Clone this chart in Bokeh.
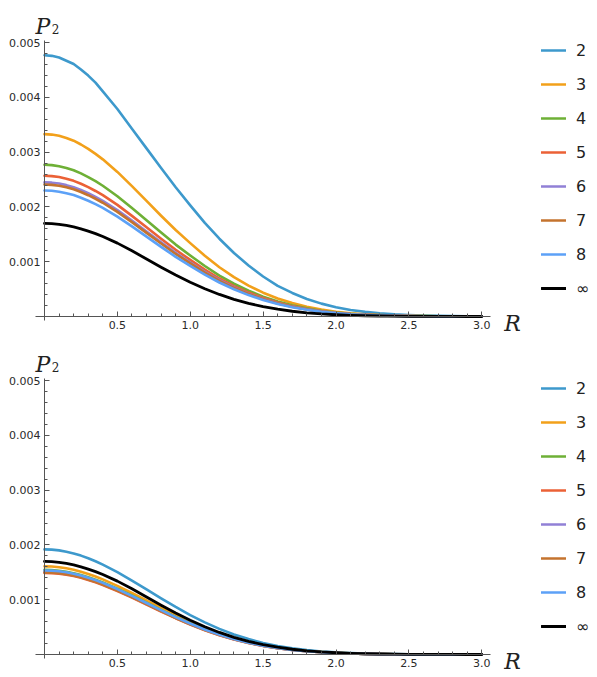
from bokeh.plotting import figure
from bokeh.models import FixedTicker, PrintfTickFormatter, Label, Legend, LegendItem
from bokeh.layouts import column
from bokeh.embed import file_html
from bokeh.resources import INLINE

# R grid
R = [0.0, 0.05, 0.1, 0.15, 0.2, 0.25, 0.3, 0.35, 0.4, 0.5, 0.6, 0.7, 0.8, 0.9, 1.0, 1.1, 1.2, 1.3, 1.4, 1.5,
     1.6, 1.7, 1.8, 1.9, 2.0, 2.1, 2.2, 2.3, 2.4, 2.5, 2.6, 2.7, 2.8, 2.9, 3.0]

labels = ["2", "3", "4", "5", "6", "7", "8", "\u221e"]
colors = ["#3D99CC", "#F2A01A", "#6EB036", "#EB6136", "#9180D6", "#C4732E", "#5CA1F7", "#000000"]

# P2 values in units of 1e-3 (top panel)
top_2 = [4.77, 4.76, 4.73, 4.67, 4.61, 4.51, 4.40, 4.27, 4.11, 3.79, 3.43, 3.07, 2.71, 2.36, 2.03, 1.71, 1.42, 1.16, 0.93, 0.73,
         0.56, 0.43, 0.32, 0.235, 0.17, 0.12, 0.085, 0.058, 0.039, 0.026, 0.017, 0.011, 0.007, 0.0045, 0.003]
top_3 = [3.33, 3.322, 3.30, 3.26, 3.21, 3.141, 3.06, 2.97, 2.87, 2.64, 2.38, 2.11, 1.84, 1.58, 1.34, 1.11, 0.90, 0.72, 0.565, 0.435,
         0.33, 0.245, 0.178, 0.126, 0.088, 0.060, 0.040, 0.026, 0.017, 0.011, 0.007, 0.0045, 0.0028, 0.0017, 0.001]
top_4 = [2.77, 2.764, 2.745, 2.712, 2.670, 2.613, 2.546, 2.471, 2.388, 2.197, 1.981, 1.756, 1.532, 1.313, 1.114, 0.922, 0.748, 0.598, 0.471, 0.363,
         0.274, 0.204, 0.148, 0.105, 0.073, 0.050, 0.033, 0.022, 0.014, 0.009, 0.006, 0.0037, 0.0023, 0.0014, 0.0008]
top_5 = [2.57, 2.564, 2.547, 2.516, 2.477, 2.424, 2.362, 2.292, 2.215, 2.038, 1.838, 1.629, 1.421, 1.218, 1.033, 0.856, 0.694, 0.555, 0.437, 0.337,
         0.254, 0.189, 0.137, 0.097, 0.068, 0.046, 0.031, 0.020, 0.013, 0.0085, 0.0054, 0.0035, 0.0022, 0.0013, 0.0008]
top_6 = [2.45, 2.444, 2.428, 2.399, 2.362, 2.311, 2.252, 2.185, 2.112, 1.943, 1.752, 1.553, 1.355, 1.161, 0.985, 0.816, 0.662, 0.529, 0.417, 0.321,
         0.243, 0.180, 0.131, 0.093, 0.065, 0.044, 0.029, 0.019, 0.0125, 0.008, 0.0051, 0.0033, 0.0021, 0.0012, 0.0007]
top_7 = [2.41, 2.404, 2.388, 2.359, 2.323, 2.273, 2.215, 2.150, 2.077, 1.911, 1.723, 1.528, 1.333, 1.142, 0.969, 0.803, 0.651, 0.521, 0.410, 0.316,
         0.239, 0.177, 0.129, 0.091, 0.064, 0.043, 0.029, 0.019, 0.012, 0.008, 0.005, 0.0033, 0.002, 0.0012, 0.0007]
top_8 = [2.30, 2.295, 2.279, 2.252, 2.217, 2.169, 2.114, 2.052, 1.983, 1.824, 1.645, 1.458, 1.272, 1.090, 0.925, 0.766, 0.621, 0.497, 0.391, 0.301,
         0.228, 0.169, 0.123, 0.087, 0.061, 0.041, 0.028, 0.018, 0.012, 0.0076, 0.0048, 0.0031, 0.0019, 0.0012, 0.0007]
top_inf = [1.70, 1.696, 1.684, 1.663, 1.636, 1.601, 1.56, 1.513, 1.46, 1.34, 1.20, 1.05, 0.90, 0.757, 0.625, 0.507, 0.403, 0.314, 0.240, 0.180,
           0.133, 0.096, 0.068, 0.047, 0.032, 0.021, 0.014, 0.009, 0.0055, 0.0034, 0.002, 0.0012, 0.0007, 0.0004, 0.0002]

# P2 values in units of 1e-3 (bottom panel)
bot_2 = [1.92, 1.915, 1.901, 1.878, 1.846, 1.806, 1.758, 1.703, 1.641, 1.503, 1.349, 1.188, 1.025, 0.868, 0.720, 0.586, 0.468, 0.366, 0.281, 0.211,
         0.156, 0.113, 0.080, 0.056, 0.038, 0.025, 0.017, 0.011, 0.0068, 0.0042, 0.0026, 0.0016, 0.001, 0.0006, 0.0003]
bot_3 = [1.61, 1.606, 1.594, 1.574, 1.547, 1.512, 1.471, 1.424, 1.372, 1.254, 1.123, 0.986, 0.849, 0.716, 0.592, 0.480, 0.381, 0.297, 0.227, 0.170,
         0.124, 0.089, 0.063, 0.044, 0.029, 0.020, 0.013, 0.008, 0.005, 0.003, 0.0019, 0.0011, 0.0006, 0.0004, 0.0002]
bot_4 = [1.545, 1.541, 1.530, 1.511, 1.484, 1.451, 1.412, 1.367, 1.317, 1.203, 1.078, 0.947, 0.815, 0.687, 0.568, 0.461, 0.366, 0.285, 0.218, 0.163,
         0.119, 0.086, 0.061, 0.042, 0.028, 0.019, 0.012, 0.008, 0.005, 0.003, 0.0018, 0.001, 0.0006, 0.0003, 0.0002]
bot_5 = [1.49, 1.486, 1.475, 1.457, 1.432, 1.400, 1.362, 1.318, 1.270, 1.160, 1.040, 0.913, 0.786, 0.663, 0.548, 0.444, 0.353, 0.275, 0.210, 0.157,
         0.115, 0.083, 0.058, 0.040, 0.027, 0.018, 0.012, 0.0075, 0.0047, 0.0029, 0.0017, 0.001, 0.0006, 0.0003, 0.0002]
bot_6 = [1.51, 1.506, 1.495, 1.476, 1.451, 1.418, 1.380, 1.336, 1.287, 1.176, 1.054, 0.925, 0.796, 0.672, 0.556, 0.450, 0.358, 0.279, 0.213, 0.159,
         0.117, 0.084, 0.059, 0.041, 0.028, 0.018, 0.012, 0.0076, 0.0048, 0.0029, 0.0018, 0.001, 0.0006, 0.0003, 0.0002]
bot_7 = [1.50, 1.496, 1.485, 1.467, 1.441, 1.409, 1.371, 1.327, 1.278, 1.168, 1.047, 0.919, 0.791, 0.667, 0.552, 0.447, 0.355, 0.277, 0.211, 0.158,
         0.116, 0.083, 0.059, 0.041, 0.027, 0.018, 0.012, 0.0076, 0.0047, 0.0029, 0.0017, 0.001, 0.0006, 0.0003, 0.0002]
bot_8 = [1.535, 1.531, 1.520, 1.501, 1.475, 1.442, 1.403, 1.358, 1.308, 1.195, 1.071, 0.940, 0.809, 0.683, 0.565, 0.458, 0.364, 0.283, 0.216, 0.162,
         0.119, 0.085, 0.060, 0.042, 0.028, 0.019, 0.012, 0.0077, 0.0048, 0.003, 0.0018, 0.001, 0.0006, 0.0003, 0.0002]
bot_inf = top_inf

x_major = [0.5, 1.0, 1.5, 2.0, 2.5, 3.0]
x_minor = [0.1, 0.2, 0.3, 0.4, 0.6, 0.7, 0.8, 0.9, 1.1, 1.2, 1.3, 1.4, 1.6, 1.7, 1.8, 1.9,
           2.1, 2.2, 2.3, 2.4, 2.6, 2.7, 2.8, 2.9]
y_major = [0.001, 0.002, 0.003, 0.004, 0.005]
y_minor = [0.0002, 0.0004, 0.0006, 0.0008, 0.0012, 0.0014, 0.0016, 0.0018, 0.0022, 0.0024, 0.0026, 0.0028,
           0.0032, 0.0034, 0.0036, 0.0038, 0.0042, 0.0044, 0.0046, 0.0048]

SCALE = 1e-3
PX_X = 145.75      # pixels per unit R
PX_Y = 54760.0     # pixels per unit P2
W = 597
ORIGIN_X = 44      # pixel position of R = 0


def make_plot(series, height, zero_from_top, legend_vy):
    x0 = -ORIGIN_X / PX_X
    x1 = x0 + W / PX_X
    y1 = zero_from_top / PX_Y
    y0 = -(height - zero_from_top) / PX_Y
    p = figure(width=W, height=height, x_range=(x0, x1), y_range=(y0, y1),
               output_backend="svg", toolbar_location=None,
               min_border_left=0, min_border_right=0, min_border_top=0, min_border_bottom=0)
    p.outline_line_color = None
    p.xgrid.visible = False
    p.ygrid.visible = False
    p.background_fill_color = "white"
    p.border_fill_color = "white"

    p.xaxis.fixed_location = 0
    p.yaxis.fixed_location = 0
    p.xaxis.bounds = (-0.062, 3.06)
    p.yaxis.bounds = (-0.00007, 0.00504)

    for ax, maj, mnr, fmt in ((p.xaxis, x_major, x_minor, "%.1f"), (p.yaxis, y_major, y_minor, "%.3f")):
        ax.ticker = FixedTicker(ticks=maj, minor_ticks=mnr)
        ax.formatter = PrintfTickFormatter(format=fmt)
        ax.axis_line_color = "#555555"
        ax.axis_line_width = 1
        ax.major_tick_line_color = "#555555"
        ax.minor_tick_line_color = "#555555"
        ax.major_tick_in = 5
        ax.major_tick_out = 0
        ax.minor_tick_in = 3
        ax.minor_tick_out = 0
        ax.major_label_text_font = "DejaVu Sans"
        ax.major_label_text_font_size = "11px"
        ax.major_label_text_color = "#2a2a2a"
        ax.major_label_standoff = 4

    items = []
    for lab, col, vals in zip(labels, colors, series):
        yv = [v * SCALE for v in vals]
        r = p.line(R, yv, line_color=col, line_width=2.6 if lab != "\u221e" else 2.8,
                   line_join="round", line_cap="round")
        items.append(LegendItem(label=lab, renderers=[r]))

    legend = Legend(items=items, location=(541, legend_vy), orientation="vertical",
                    glyph_width=25, glyph_height=20, label_height=20, spacing=14,
                    label_standoff=10, padding=0, margin=0,
                    label_text_font="DejaVu Sans", label_text_font_size="16px",
                    label_text_color="#222222",
                    border_line_alpha=0, background_fill_alpha=0)
    p.add_layout(legend)

    p.add_layout(Label(x=-0.062, y=0.0053, text="P", text_font="DejaVu Serif",
                       text_font_style="italic", text_font_size="22px",
                       text_baseline="alphabetic", text_color="#222222"))
    p.add_layout(Label(x=0.05, y=0.00525, text="2", text_font="DejaVu Serif",
                       text_font_size="12px", text_baseline="alphabetic", text_color="#222222"))
    p.add_layout(Label(x=3.155, y=-0.00013, text="R", text_font="DejaVu Serif",
                       text_font_style="italic", text_font_size="22px",
                       text_baseline="alphabetic", text_color="#222222"))
    return p


p1 = make_plot([top_2, top_3, top_4, top_5, top_6, top_7, top_8, top_inf], 345, 316, 47)
p2 = make_plot([bot_2, bot_3, bot_4, bot_5, bot_6, bot_7, bot_8, bot_inf], 331, 309, 40)

layout = column(p1, p2, spacing=0)
open("out.html", "w").write(file_html(layout, INLINE))
